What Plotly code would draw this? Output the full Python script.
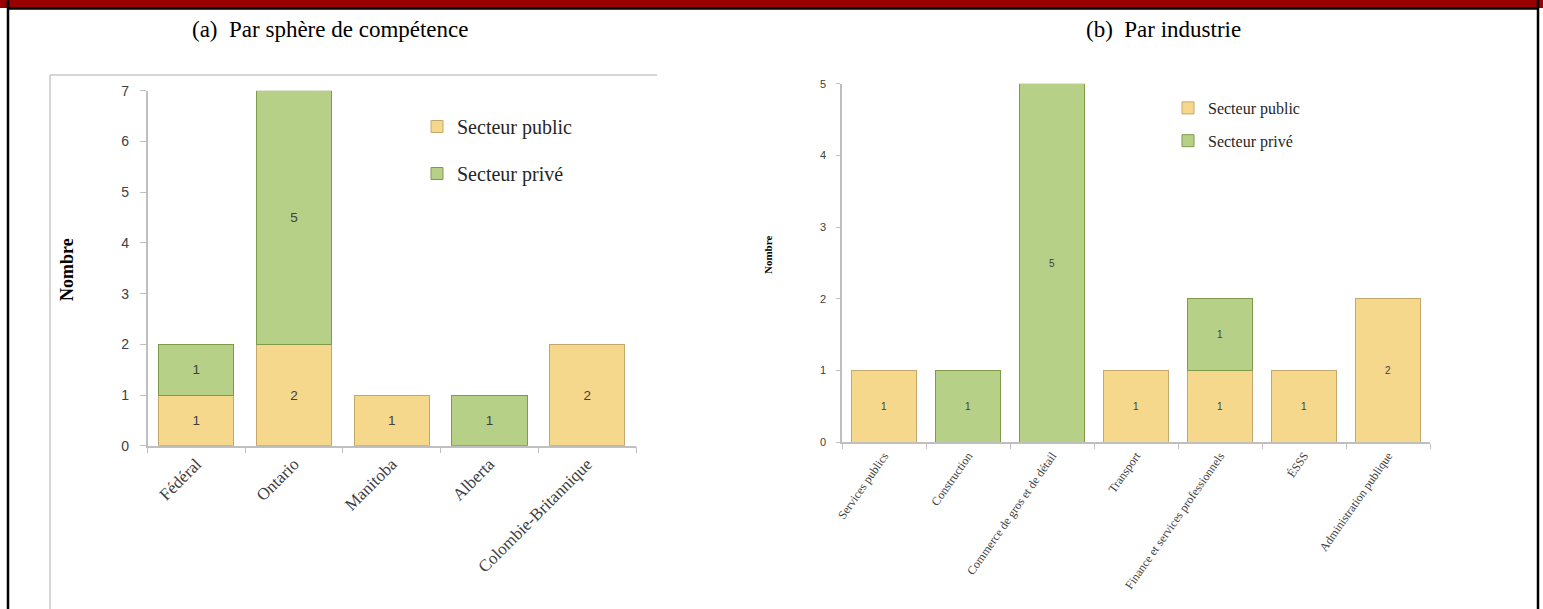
import plotly.graph_objects as go

# ---------------- data ----------------
cats_a = ["Fédéral", "Ontario", "Manitoba", "Alberta", "Colombie-Britannique"]
public_a = [1, 2, 1, 0, 2]
private_a = [1, 5, 0, 1, 0]

cats_b = ["Services publics", "Construction", "Commerce de gros et de détail", "Transport",
          "Finance et services professionnels", "ÉSSS", "Administration publique"]
public_b = [1, 0, 0, 1, 1, 1, 2]
private_b = [0, 1, 5, 0, 1, 0, 0]

series_names = ["Secteur public", "Secteur privé"]
titles = ["(a)\u00a0 Par sphère de compétence", "(b)\u00a0 Par industrie"]
ytitle = "Nombre"

# ---------------- styling ----------------
W, H = 1543, 609
PUB_FILL, PUB_LINE = "#F6D88C", "#C4A76A"
PRI_FILL, PRI_LINE = "#B7D088", "#7F9B4A"
SERIF = "Liberation Serif"
SANS = "Liberation Sans"
GRAY = "#BFBFBF"
TXT = "#404040"


def px_x(p):
    return p / W


def px_y(p):
    return 1 - p / H


def nz(vals):
    return [v if v else None for v in vals]


def lbl(vals):
    return [str(v) if v else "" for v in vals]


fig = go.Figure()

panels = [
    dict(cats=cats_a, pub=public_a, pri=private_a, xa="x", ya="y", leg="legend", fs=13.5),
    dict(cats=cats_b, pub=public_b, pri=private_b, xa="x2", ya="y2", leg="legend2", fs=10),
]

for p in panels:
    for name, vals, fill, line in [
        (series_names[0], p["pub"], PUB_FILL, PUB_LINE),
        (series_names[1], p["pri"], PRI_FILL, PRI_LINE),
    ]:
        fig.add_trace(go.Bar(
            x=p["cats"], y=nz(vals), name=name,
            text=lbl(vals), textposition="inside", insidetextanchor="middle",
            textangle=0, constraintext="none",
            textfont=dict(family=SANS, size=p["fs"], color=TXT),
            marker=dict(color=fill, line=dict(color=line, width=1)),
            xaxis=p["xa"], yaxis=p["ya"], legend=p["leg"],
            legendgroup=name + p["leg"], cliponaxis=False,
        ))

axis_common = dict(showline=True, linecolor=GRAY, linewidth=1.5, ticks="outside",
                   tickcolor=GRAY, showgrid=False, zeroline=False,
                   automargin=False)

fig.update_layout(
    width=W, height=H,
    margin=dict(l=0, r=0, t=0, b=0, pad=0, autoexpand=False),
    paper_bgcolor="white", plot_bgcolor="white",
    barmode="stack", bargap=0.23,
    xaxis=dict(domain=[px_x(147.5), px_x(636)], anchor="y", tickson="boundaries", ticklen=6,
               tickangle=-45, tickfont=dict(family=SERIF, size=17, color=TXT), **axis_common),
    yaxis=dict(domain=[px_y(445.7), px_y(90.8)], anchor="x", range=[0, 7], dtick=1, ticklen=6,
               ticklabelstandoff=8,
               tickfont=dict(family=SANS, size=14, color=TXT), **axis_common),
    xaxis2=dict(domain=[px_x(842), px_x(1430)], anchor="y2", tickson="boundaries", ticklen=5,
                tickangle=-55, tickfont=dict(family=SERIF, size=12, color=TXT), **axis_common),
    yaxis2=dict(domain=[px_y(442.3), px_y(83.8)], anchor="x2", range=[0, 5], dtick=1, ticklen=4,
                ticklabelstandoff=8,
                tickfont=dict(family=SANS, size=11, color=TXT), **axis_common),
    legend=dict(x=px_x(417), y=px_y(107), xanchor="left", yanchor="top",
                traceorder="grouped", tracegroupgap=18,
                font=dict(family=SERIF, size=20, color="#262626"),
                bgcolor="rgba(0,0,0,0)"),
    legend2=dict(x=px_x(1168), y=px_y(91), xanchor="left", yanchor="top",
                 traceorder="grouped", tracegroupgap=9,
                 font=dict(family=SERIF, size=16, color="#262626"),
                 bgcolor="rgba(0,0,0,0)"),
    showlegend=True,
)

annotations = [
    dict(text=titles[0], x=px_x(330), y=px_y(29), xref="paper", yref="paper",
         xanchor="center", yanchor="middle",
         showarrow=False, font=dict(family=SERIF, size=23, color="black")),
    dict(text=titles[1], x=px_x(1163), y=px_y(29), xref="paper", yref="paper",
         xanchor="center", yanchor="middle",
         showarrow=False, font=dict(family=SERIF, size=23, color="black")),
    dict(text="<b>" + ytitle + "</b>", x=px_x(67), y=px_y(270), xref="paper", yref="paper",
         xanchor="center", yanchor="middle",
         showarrow=False, textangle=-90, font=dict(family=SERIF, size=18, color="black")),
    dict(text="<b>" + ytitle + "</b>", x=px_x(768), y=px_y(255), xref="paper", yref="paper",
         xanchor="center", yanchor="middle",
         showarrow=False, textangle=-90, font=dict(family=SERIF, size=11, color="black")),
]
fig.update_layout(annotations=annotations)

shapes = [
    # dark red header band
    dict(type="rect", xref="paper", yref="paper", x0=0, x1=1, y0=px_y(8), y1=1,
         fillcolor="#990000", line=dict(width=0), layer="above"),
    # black frame lines
    dict(type="line", xref="paper", yref="paper", x0=px_x(7), x1=px_x(1539), y0=px_y(8.5), y1=px_y(8.5),
         line=dict(color="black", width=2.5)),
    dict(type="line", xref="paper", yref="paper", x0=px_x(8), x1=px_x(8), y0=0, y1=1,
         line=dict(color="black", width=2.5)),
    dict(type="line", xref="paper", yref="paper", x0=px_x(1538), x1=px_x(1538), y0=0, y1=1,
         line=dict(color="black", width=2.5)),
    # light frame around left chart
    dict(type="line", xref="paper", yref="paper", x0=px_x(50), x1=px_x(657), y0=px_y(75), y1=px_y(75),
         line=dict(color="#C8C8C8", width=1.5)),
    dict(type="line", xref="paper", yref="paper", x0=px_x(50), x1=px_x(50), y0=px_y(75), y1=0,
         line=dict(color="#C8C8C8", width=1.5)),
]
fig.update_layout(shapes=shapes)

post = (
    "document.documentElement.style.margin='0px';"
    "document.body.style.margin='0px';document.body.style.padding='0px';"
    "document.body.style.overflow='hidden';"
)
fig.write_html("out.html", post_script=post)
